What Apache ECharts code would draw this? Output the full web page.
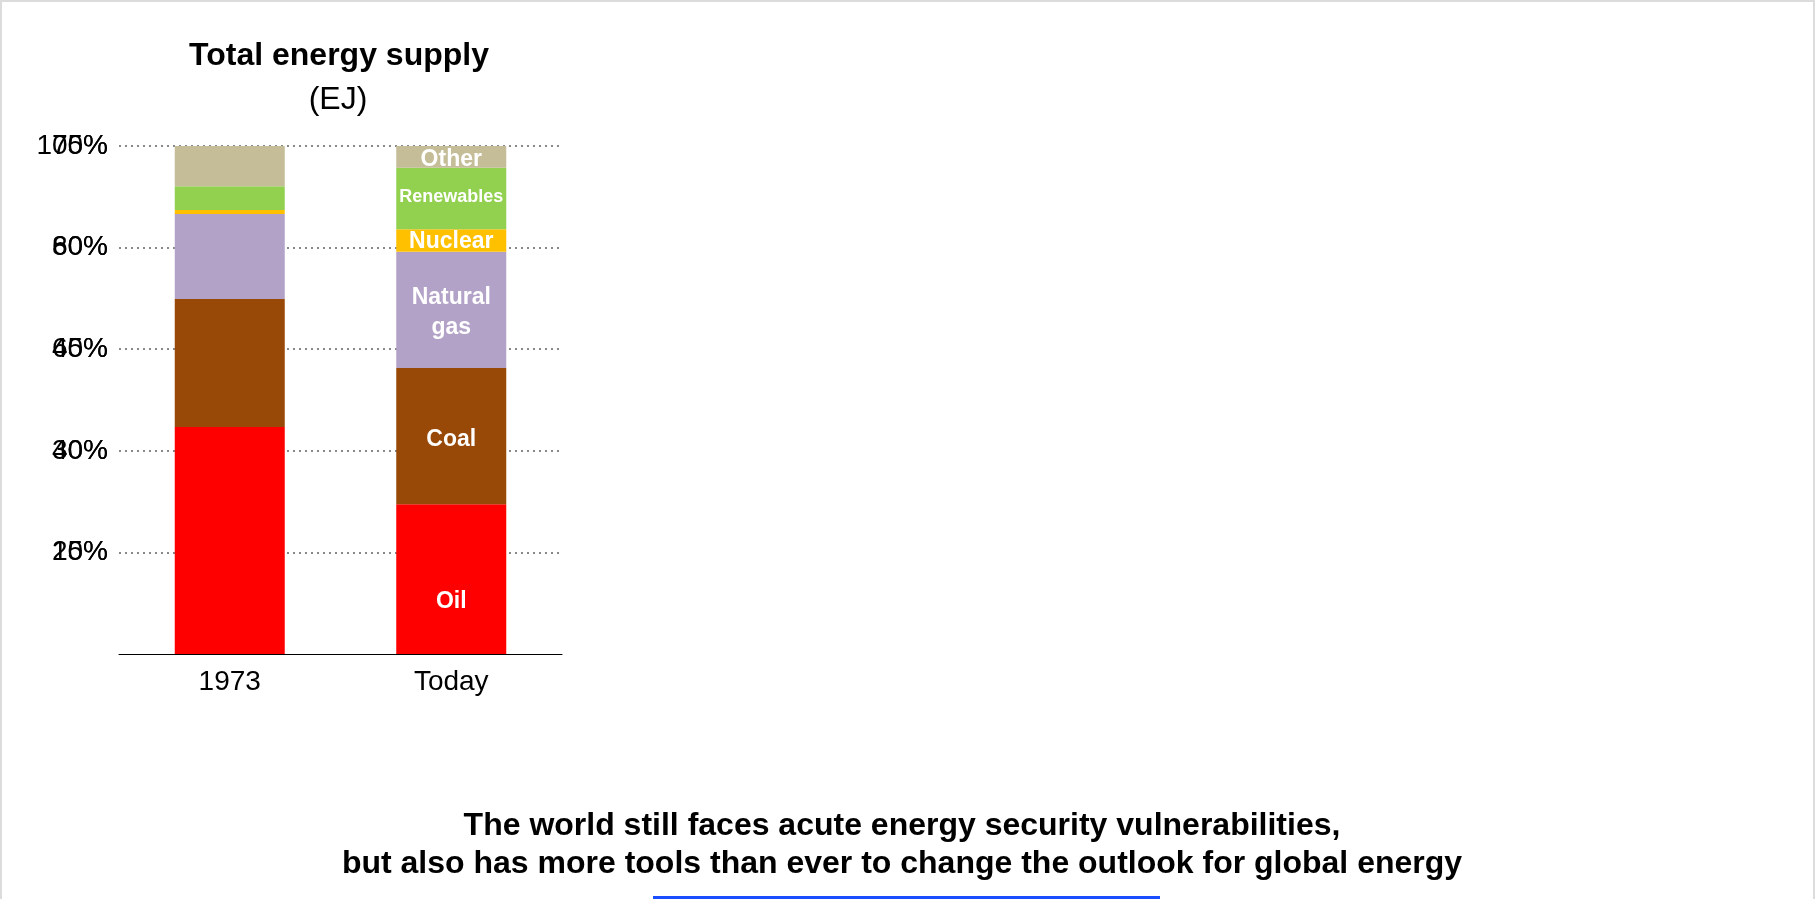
<!DOCTYPE html>
<html>
<head>
<meta charset="utf-8">
<script src="https://cdn.jsdelivr.net/npm/echarts@6/dist/echarts.min.js"></script>
<style>
  html, body { margin: 0; padding: 0; background: #fff; overflow: hidden; }
  #chart { position: absolute; left: 0; top: 0; width: 1815px; height: 899px; }
  #frame { position: absolute; left: 0; top: 0; width: 1811px; height: 1000px; border: 2px solid #dcdcdc; pointer-events: none; }
</style>
</head>
<body>
<div id="chart"></div>
<div id="frame"></div>
<script>
const categories = ['1973', 'Today'];
const seriesNames = ['Oil', 'Coal', 'Natural gas', 'Nuclear', 'Renewables', 'Other'];
const oil = [44.7, 29.5];
const coal = [25.2, 26.8];
const naturalGas = [16.7, 22.9];
const nuclear = [0.8, 4.4];
const renewables = [4.7, 12.1];
const other = [7.9, 4.3];
const leftTicks = { min: 0, max: 100, interval: 20 };
const rightTicks = { min: 0, max: 75, interval: 15 };
const title = 'Total energy supply';
const unit = '(EJ)';
const caption = 'The world still faces acute energy security vulnerabilities,\nbut also has more tools than ever to change the outlook for global energy';

const values = [oil, coal, naturalGas, nuclear, renewables, other];
const colors = ['#ff0000', '#984807', '#b3a2c7', '#ffc000', '#92d050', '#c4bd97'];
const labelText = ['Oil', 'Coal', 'Natural\ngas', 'Nuclear', 'Renewables', 'Other'];
const labelSize = [23, 23, 23, 23, 18, 23];
const labelOffset = [[0, 23], [0, 4], [0, 3], [0, 1], [0, -2], [0, 3]];
const FONT = 'Liberation Sans, Arial, sans-serif';

const chart = echarts.init(document.getElementById('chart'));

const yAxisCommon = {
  type: 'value',
  position: 'left',
  axisLine: { show: false },
  axisTick: { show: false },
  axisLabel: {
    color: '#000', fontSize: 28, fontFamily: FONT, margin: 11,
    showMinLabel: false,
    formatter: v => v === 0 ? '' : v + '%'
  }
};

chart.setOption({
  animation: false,
  textStyle: { fontFamily: FONT },
  title: [
    { text: title, left: 334, top: 35, textAlign: 'center',
      textStyle: { fontSize: 32, fontWeight: 'bold', color: '#000', fontFamily: FONT } },
    { text: unit, left: 333, top: 79, textAlign: 'center',
      textStyle: { fontSize: 32, fontWeight: 'normal', color: '#000', fontFamily: FONT } },
    { text: caption, left: 897, top: 802, textAlign: 'center',
      textStyle: { fontSize: 32, fontWeight: 'bold', color: '#000', lineHeight: 38, fontFamily: FONT } }
  ],
  grid: { left: 119, right: 1253, top: 146, bottom: 245, containLabel: false },
  xAxis: {
    type: 'category',
    data: categories,
    axisLine: { lineStyle: { color: '#000', width: 1 } },
    axisTick: { show: false },
    axisLabel: { color: '#000', fontSize: 28, fontFamily: FONT, margin: 14 }
  },
  yAxis: [
    Object.assign({}, yAxisCommon, leftTicks, {
      splitLine: { show: true, showMinLine: false, lineStyle: { color: '#888', width: 2, type: [2, 4] } }
    }),
    Object.assign({}, yAxisCommon, rightTicks, {
      offset: 0,
      splitLine: { show: false }
    })
  ],
  series: seriesNames.map((name, i) => ({
    name: name,
    type: 'bar',
    stack: 'total',
    yAxisIndex: 0,
    barWidth: 110,
    itemStyle: { color: colors[i] },
    label: {
      show: true,
      position: 'inside',
      color: '#fff',
      fontWeight: 'bold',
      fontSize: labelSize[i],
      fontFamily: FONT,
      lineHeight: 30,
      offset: labelOffset[i],
      formatter: p => p.dataIndex === 1 ? labelText[i] : ''
    },
    data: values[i]
  })),
  graphic: [
    { type: 'rect', shape: { x: 653, y: 896, width: 507, height: 6 },
      style: { fill: '#1a4dff' } }
  ]
});
</script>
</body>
</html>
